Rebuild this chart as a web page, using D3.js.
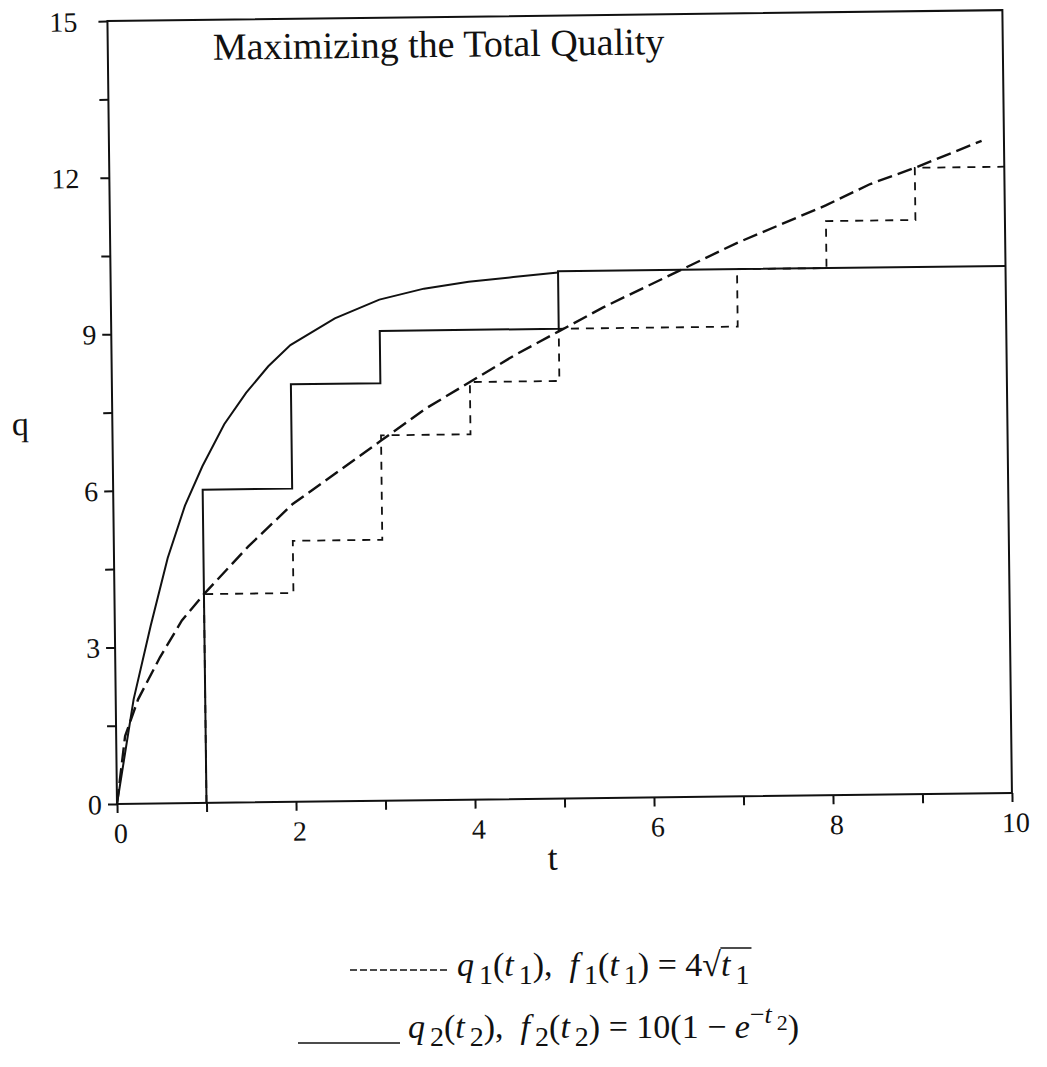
<!DOCTYPE html>
<html>
<head>
<meta charset="utf-8">
<script src="https://cdn.jsdelivr.net/npm/d3@7"></script>
<style>
  body { margin: 0; background: #fff; }
  text { font-family: "Liberation Serif", "Times New Roman", serif; fill: #111; }
</style>
</head>
<body>
<div class="chart"></div>
<script>
// q1 curve: f1(t) = 4*sqrt(t)
var q1CurveT = [0, 0.1, 0.25, 0.5, 0.75, 1, 1.5, 2, 2.5, 3, 3.5, 4, 4.5, 5, 5.5, 6, 6.5, 7, 7.5, 8, 8.5, 9, 9.75];
var q1CurveQ = [0, 1.3, 2.0, 2.8, 3.5, 4.0, 4.9, 5.7, 6.3, 6.9, 7.5, 8.0, 8.5, 8.95, 9.4, 9.8, 10.2, 10.6, 10.95, 11.3, 11.7, 12.0, 12.5];

// q2 curve: f2(t) = 10(1 - e^-t)
var q2CurveT = [0, 0.2, 0.4, 0.6, 0.8, 1.0, 1.25, 1.5, 1.75, 2.0, 2.5, 3.0, 3.5, 4.0, 4.5, 5.0];
var q2CurveQ = [0, 2.0, 3.4, 4.7, 5.7, 6.45, 7.25, 7.85, 8.35, 8.75, 9.25, 9.6, 9.8, 9.92, 10.0, 10.08];

// integer step allocations
var q1StepT = [1, 1, 2, 3, 4, 5, 7, 8, 9, 10];
var q1StepQ = [0, 4, 5, 7, 8, 9, 10.1, 11, 12, 12];
var q2StepT = [1, 1, 2, 3, 5, 10];
var q2StepQ = [0, 6, 8, 9, 10.1, 10.1];

var xTicks = [0, 1, 2, 3, 4, 5, 6, 7, 8, 9, 10];
var xTickLabels = [0, 2, 4, 6, 8, 10];
var yTicks = [0, 1.5, 3, 4.5, 6, 7.5, 9, 10.5, 12, 13.5, 15];
var yTickLabels = [0, 3, 6, 9, 12, 15];

var svgWidth = 1047;
var svgHeight = 1067;

var margin = { top: 21, left: 117 };
var width = 895;
var height = 783;

var svg = d3.select(".chart")
  .append("svg")
  .attr("width", svgWidth)
  .attr("height", svgHeight);

// the scanned page is tilted a little
var chartGroup = svg.append("g")
  .attr("transform", `rotate(-0.7, ${margin.left}, ${margin.top + height}) translate(${margin.left}, ${margin.top})`);

var xScale = d3.scaleLinear().domain([0, 10]).range([0, width]);
var yScale = d3.scaleLinear().domain([0, 15]).range([height, 0]);

var bottomAxis = d3.axisBottom(xScale)
  .tickValues(xTicks)
  .tickSizeInner(9)
  .tickSizeOuter(0)
  .tickFormat(d => xTickLabels.includes(d) ? d : "");

var leftAxis = d3.axisLeft(yScale)
  .tickValues(yTicks)
  .tickSizeInner(9)
  .tickSizeOuter(0)
  .tickFormat(d => yTickLabels.includes(d) ? d : "");

var xAxisG = chartGroup.append("g")
  .attr("transform", `translate(0, ${height})`)
  .call(bottomAxis);
xAxisG.select(".domain").remove();
xAxisG.selectAll("line").attr("stroke", "#111").attr("stroke-width", 2);
xAxisG.selectAll("text")
  .attr("y", 39).attr("dy", 0).attr("dx", 3)
  .attr("font-size", 28)
  .attr("font-family", null);

var yAxisG = chartGroup.append("g").call(leftAxis);
yAxisG.select(".domain").remove();
yAxisG.selectAll("line").attr("stroke", "#111").attr("stroke-width", 2);
yAxisG.selectAll("text")
  .attr("x", d => String(d).length > 1 ? -30 : -15)
  .attr("dy", "0.34em")
  .attr("font-size", 28)
  .attr("font-family", null);

// frame
chartGroup.append("rect")
  .attr("x", 0).attr("y", 0)
  .attr("width", width).attr("height", height)
  .attr("fill", "none")
  .attr("stroke", "#111")
  .attr("stroke-width", 2);

var stepLine = d3.line()
  .x(d => xScale(d[0]))
  .y(d => yScale(d[1]))
  .curve(d3.curveStepAfter);

var smoothLine = d3.line()
  .x(d => xScale(d[0]))
  .y(d => yScale(d[1]));

chartGroup.append("path")
  .datum(q2StepT.map((t, i) => [t, q2StepQ[i]]))
  .attr("d", stepLine)
  .attr("fill", "none")
  .attr("stroke", "#111")
  .attr("stroke-width", 2);

chartGroup.append("path")
  .datum(q1StepT.map((t, i) => [t, q1StepQ[i]]))
  .attr("d", stepLine)
  .attr("fill", "none")
  .attr("stroke", "#111")
  .attr("stroke-width", 1.8)
  .attr("stroke-dasharray", "8,7");

chartGroup.append("path")
  .datum(q2CurveT.map((t, i) => [t, q2CurveQ[i]]))
  .attr("d", smoothLine)
  .attr("fill", "none")
  .attr("stroke", "#111")
  .attr("stroke-width", 2);

chartGroup.append("path")
  .datum(q1CurveT.map((t, i) => [t, q1CurveQ[i]]))
  .attr("d", smoothLine)
  .attr("fill", "none")
  .attr("stroke", "#111")
  .attr("stroke-width", 2.4)
  .attr("stroke-dasharray", "15,6");

// title and axis labels
chartGroup.append("text")
  .attr("x", 222 - margin.left)
  .attr("y", 61 - margin.top)
  .attr("font-size", 38)
  .text("Maximizing the Total Quality");

chartGroup.append("text")
  .attr("x", 552 - margin.left)
  .attr("y", 875 - margin.top)
  .attr("text-anchor", "middle")
  .attr("font-size", 36)
  .text("t");

chartGroup.append("text")
  .attr("x", 25 - margin.left)
  .attr("y", 434 - margin.top)
  .attr("text-anchor", "middle")
  .attr("font-size", 34)
  .text("q");

// legend, typeset piece by piece
var shift = { n: 0, i: 0, sub: 8, sup: -15, supi: -15, supsub: -8 };
var size = { n: 34, i: 34, sub: 28, sup: 26, supi: 26, supsub: 22 };

function addMath(x, y, parts) {
  var t = svg.append("text").attr("x", x).attr("y", y);
  var prev = 0;
  var spans = [];
  parts.forEach(function (p) {
    var s = p[1];
    var sp = t.append("tspan")
      .attr("dy", shift[s] - prev)
      .attr("dx", (s == "sub" || s == "supsub") ? 5 : 0)
      .attr("font-size", size[s])
      .attr("font-style", (s == "i" || s == "supi") ? "italic" : null)
      .text(p[0]);
    prev = shift[s];
    spans.push(sp);
  });
  return { text: t, spans: spans };
}

var legend1 = addMath(457, 976, [
  ["q", "i"], ["1", "sub"], ["(", "n"], ["t", "i"], ["1", "sub"], ["),\u00a0\u00a0", "n"],
  ["f", "i"], ["1", "sub"], ["(", "n"], ["t", "i"], ["1", "sub"], [") = 4", "n"],
  ["\u221a", "n"], ["t", "i"], ["1", "sub"]
]);

var legend2 = addMath(408, 1038, [
  ["q", "i"], ["2", "sub"], ["(", "n"], ["t", "i"], ["2", "sub"], ["),\u00a0\u00a0", "n"],
  ["f", "i"], ["2", "sub"], ["(", "n"], ["t", "i"], ["2", "sub"], [") = 10(1 \u2212 ", "n"],
  ["e", "i"], ["\u2212", "sup"], ["t", "supi"], ["2", "supsub"], [")", "n"]
]);

// radical bar over t1
var rootBox = legend1.spans[12].node().getBBox();
var textBox = legend1.text.node().getBBox();
svg.append("line")
  .attr("x1", rootBox.x + rootBox.width - 1)
  .attr("x2", textBox.x + textBox.width + 2)
  .attr("y1", rootBox.y + 2)
  .attr("y2", rootBox.y + 2)
  .attr("stroke", "#111")
  .attr("stroke-width", 1.5);

// legend keys
svg.append("line")
  .attr("x1", 350).attr("x2", 447)
  .attr("y1", 970).attr("y2", 970)
  .attr("stroke", "#111")
  .attr("stroke-width", 1.6)
  .attr("stroke-dasharray", "7,3");

svg.append("line")
  .attr("x1", 298).attr("x2", 400)
  .attr("y1", 1043).attr("y2", 1043)
  .attr("stroke", "#111")
  .attr("stroke-width", 1.6);
</script>
</body>
</html>
